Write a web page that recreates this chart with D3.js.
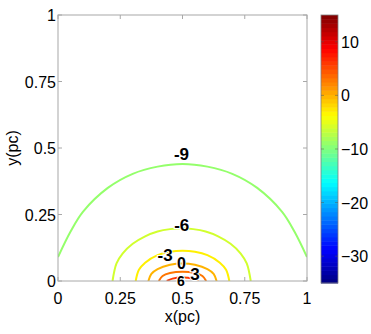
<!DOCTYPE html>
<html>
<head>
<meta charset="utf-8">
<script src="https://cdn.jsdelivr.net/npm/d3@7"></script>
<style>
body { margin: 0; background: #fff; }
text { font-family: "Liberation Sans", Arial, sans-serif; }
</style>
</head>
<body>
<div id="chart"></div>
<script>
// contour levels and their lines (x, y in pc)
var levels = [-9, -6, -3, 0, 3, 6];
var lineX = [
  [0, 0.05, 0.1, 0.2, 0.3, 0.4, 0.5, 0.6, 0.7, 0.8, 0.9, 0.95, 1],
  [0.219, 0.235, 0.26, 0.3, 0.35, 0.4, 0.45, 0.497, 0.543, 0.593, 0.643, 0.693, 0.733, 0.758, 0.774],
  [0.312, 0.325, 0.35, 0.4, 0.45, 0.5, 0.55, 0.6, 0.65, 0.675, 0.688],
  [0.363, 0.375, 0.4, 0.45, 0.5, 0.55, 0.6, 0.625, 0.637],
  [0.405, 0.42, 0.45, 0.5, 0.55, 0.58, 0.595],
  [0.437, 0.46, 0.5, 0.54, 0.563]
];
var lineY = [
  [0.09, 0.185, 0.26, 0.35, 0.403, 0.43, 0.44, 0.43, 0.403, 0.35, 0.26, 0.185, 0.09],
  [0, 0.066, 0.104, 0.14, 0.168, 0.186, 0.195, 0.198, 0.195, 0.186, 0.168, 0.14, 0.104, 0.066, 0],
  [0, 0.042, 0.069, 0.097, 0.11, 0.114, 0.11, 0.097, 0.069, 0.042, 0],
  [0, 0.027, 0.045, 0.061, 0.066, 0.061, 0.045, 0.027, 0],
  [0, 0.019, 0.03, 0.035, 0.03, 0.019, 0],
  [0, 0.009, 0.013, 0.009, 0]
];
// where the inline labels sit (pc)
var labelX = [0.496, 0.497, 0.43, 0.496, 0.55, 0.494];
var labelY = [0.477, 0.21, 0.1, 0.068, 0.027, 0.002];
var labelText = ["-9", "-6", "-3", "0", "3", "6"];
var labelSize = [17, 17, 17, 16, 17, 14];

var xTicks = [0, 0.25, 0.5, 0.75, 1];
var yTicks = [0, 0.25, 0.5, 0.75, 1];
var cbDomain = [-35, 15];
var cbTicks = [-30, -20, -10, 0, 10];

var W = 371, H = 334;
var plot = {left: 58, right: 307, top: 15, bottom: 281};
var cb = {left: 321, right: 338, top: 15, bottom: 283};

var svg = d3.select("#chart").append("svg")
  .attr("width", W).attr("height", H);

var x = d3.scaleLinear().domain([0, 1]).range([plot.left, plot.right]);
var y = d3.scaleLinear().domain([0, 1]).range([plot.bottom, plot.top]);

// MATLAB jet colormap
function jet(t) {
  function c(v) { return Math.max(0, Math.min(1, v)); }
  var r = c(1.5 - Math.abs(4 * t - 3));
  var g = c(1.5 - Math.abs(4 * t - 2));
  var b = c(1.5 - Math.abs(4 * t - 1));
  return d3.rgb(r * 255, g * 255, b * 255);
}
var color = function(v) {
  return jet((v - cbDomain[0]) / (cbDomain[1] - cbDomain[0]));
};

svg.append("clipPath").attr("id", "clip")
  .append("rect")
  .attr("x", plot.left).attr("y", plot.top)
  .attr("width", plot.right - plot.left).attr("height", plot.bottom - plot.top);

var line = d3.line()
  .x(function(d) { return x(d[0]); })
  .y(function(d) { return y(d[1]); })
  .curve(d3.curveCatmullRom);

var g = svg.append("g").attr("clip-path", "url(#clip)");
levels.forEach(function(lv, i) {
  var pts = lineX[i].map(function(v, j) { return [v, lineY[i][j]]; });
  g.append("path")
    .attr("d", line(pts))
    .attr("fill", "none")
    .attr("stroke", color(lv))
    .attr("stroke-width", 2);
});

// axes box (ticks inside, on all four sides)
var axisColor = "#a8a8a8";
svg.append("rect")
  .attr("x", plot.left).attr("y", plot.top)
  .attr("width", plot.right - plot.left).attr("height", plot.bottom - plot.top)
  .attr("fill", "none").attr("stroke", axisColor).attr("stroke-width", 1);

var tl = 4;
xTicks.forEach(function(t) {
  svg.append("line").attr("x1", x(t)).attr("x2", x(t))
    .attr("y1", plot.bottom).attr("y2", plot.bottom - tl)
    .attr("stroke", axisColor);
  svg.append("line").attr("x1", x(t)).attr("x2", x(t))
    .attr("y1", plot.top).attr("y2", plot.top + tl)
    .attr("stroke", axisColor);
  svg.append("text")
    .attr("x", x(t)).attr("y", 303.5)
    .attr("text-anchor", "middle")
    .style("font-size", "16px")
    .text(t);
});
yTicks.forEach(function(t) {
  svg.append("line").attr("x1", plot.left).attr("x2", plot.left + tl)
    .attr("y1", y(t)).attr("y2", y(t))
    .attr("stroke", axisColor);
  svg.append("line").attr("x1", plot.right).attr("x2", plot.right - tl)
    .attr("y1", y(t)).attr("y2", y(t))
    .attr("stroke", axisColor);
  svg.append("text")
    .attr("x", 56).attr("y", y(t))
    .attr("dy", "0.38em")
    .attr("text-anchor", "end")
    .style("font-size", "16px")
    .text(t);
});

svg.append("text")
  .attr("x", x(0.5)).attr("y", 322)
  .attr("text-anchor", "middle")
  .style("font-size", "16px")
  .text("x(pc)");
svg.append("text")
  .attr("transform", "translate(18," + y(0.5) + ") rotate(-90)")
  .attr("text-anchor", "middle")
  .style("font-size", "16px")
  .text("y(pc)");

// contour labels
levels.forEach(function(lv, i) {
  svg.append("text")
    .attr("x", x(labelX[i])).attr("y", y(labelY[i]))
    .attr("dy", "0.36em")
    .attr("text-anchor", "middle")
    .style("font-size", labelSize[i] + "px")
    .style("font-weight", "bold")
    .attr("stroke", "#fff").attr("stroke-width", 2)
    .attr("paint-order", "stroke")
    .text(labelText[i]);
});

// colorbar
var cy = d3.scaleLinear().domain(cbDomain).range([cb.bottom, cb.top]);
var nSteps = 64;
var step = (cbDomain[1] - cbDomain[0]) / nSteps;
d3.range(nSteps).forEach(function(k) {
  var v0 = cbDomain[0] + k * step;
  svg.append("rect")
    .attr("x", cb.left).attr("width", cb.right - cb.left)
    .attr("y", cy(v0 + step)).attr("height", cy(v0) - cy(v0 + step) + 0.5)
    .attr("fill", color(v0 + step / 2));
});
svg.append("rect")
  .attr("x", cb.left).attr("y", cb.top)
  .attr("width", cb.right - cb.left).attr("height", cb.bottom - cb.top)
  .attr("fill", "none").attr("stroke", "#808080").attr("stroke-width", 0.8);
cbTicks.forEach(function(t) {
  svg.append("line").attr("x1", cb.left).attr("x2", cb.left + 3)
    .attr("y1", cy(t)).attr("y2", cy(t)).attr("stroke", "#555").attr("stroke-opacity", 0.5);
  svg.append("line").attr("x1", cb.right).attr("x2", cb.right - 3)
    .attr("y1", cy(t)).attr("y2", cy(t)).attr("stroke", "#555").attr("stroke-opacity", 0.5);
  svg.append("text")
    .attr("x", cb.right + 3).attr("y", cy(t))
    .attr("dy", "0.38em")
    .style("font-size", "16px")
    .text(t < 0 ? "\u2212" + Math.abs(t) : t);
});
</script>
</body>
</html>
